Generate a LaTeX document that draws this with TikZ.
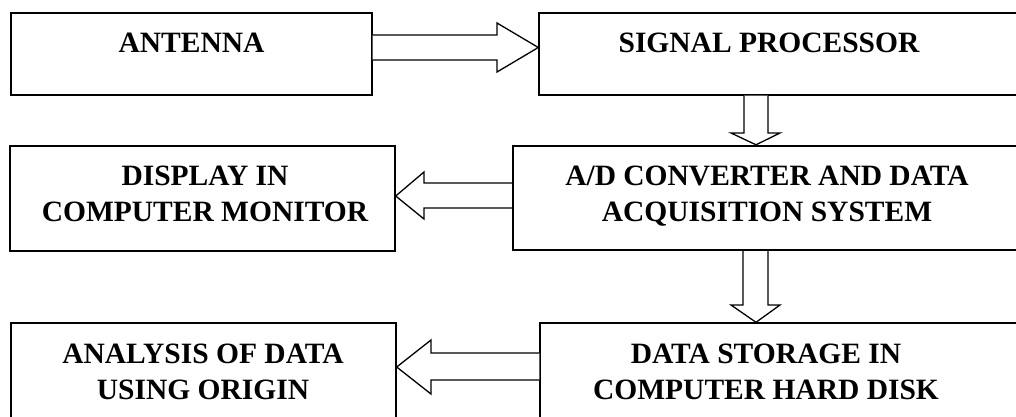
\documentclass[tikz,border=0pt]{standalone}
\usepackage{fontspec}
\setmainfont{Liberation Serif}
\begin{document}
\begin{tikzpicture}[x=1pt,y=-1pt,
  boxstyle/.style={draw=black,line width=1.4pt,inner sep=0pt},
  thickbox/.style={boxstyle,line width=2.4pt},
  lbl/.style={font=\fontsize{29.5}{36}\selectfont\bfseries,align=center,inner sep=0pt,anchor=base},
  blk/.style={draw=black,line width=1.3pt,line join=miter,fill=white}]
\clip (0,0) rectangle (1016,417);
\fill[white] (0,0) rectangle (1016,417);
% boxes
\node[boxstyle,minimum width=361pt,minimum height=82pt] (ant) at (191.5,54) {};
\node[boxstyle,minimum width=491pt,minimum height=82pt] (sig) at (784.5,54) {};
\node[thickbox,minimum width=517pt,minimum height=104pt] (ad) at (771.5,198) {};
\node[boxstyle,minimum width=385pt,minimum height=105pt] (disp) at (202.5,198.5) {};
\node[boxstyle,minimum width=490pt,minimum height=107pt] (stor) at (785,376.5) {};
\node[boxstyle,minimum width=385pt,minimum height=107pt] (anal) at (203.5,376.5) {};
% labels (base anchor = baseline of last line)
\node[lbl] (tant) at (191.5,53) {ANTENNA};
\node[lbl] (tsig) at (769,53) {SIGNAL PROCESSOR};
\node[lbl] (tad) at (767,221) {A/D CONVERTER AND DATA\\ACQUISITION SYSTEM};
\node[lbl] (tdisp) at (205,221) {DISPLAY IN\\COMPUTER MONITOR};
\node[lbl] (tstor) at (766,399) {DATA STORAGE IN\\COMPUTER HARD DISK};
\node[lbl] (tanal) at (203,399) {ANALYSIS OF DATA\\USING ORIGIN};
% block arrows
\draw[blk] (ant.east |- 0,35) -- (497,35) -- (497,23) -- (sig.west |- 0,47.5)
  -- (497,72) -- (497,60) -- (ant.east |- 0,60);
\draw[blk] (744,0 |- sig.south) -- (744,133) -- (731,133) -- (756,0 |- ad.north)
  -- (780,133) -- (768,133) -- (768,0 |- sig.south);
\draw[blk] (ad.west |- 0,183) -- (424,183) -- (424,172) -- (disp.east |- 0,196)
  -- (424,219) -- (424,208) -- (ad.west |- 0,208);
\draw[blk] (743,0 |- ad.south) -- (743,305) -- (731,305) -- (756,0 |- stor.north)
  -- (780,305) -- (768,305) -- (768,0 |- ad.south);
\draw[blk] (stor.west |- 0,353) -- (431,353) -- (431,340) -- (anal.east |- 0,367)
  -- (431,394) -- (431,380) -- (stor.west |- 0,380);
\end{tikzpicture}
\end{document}
